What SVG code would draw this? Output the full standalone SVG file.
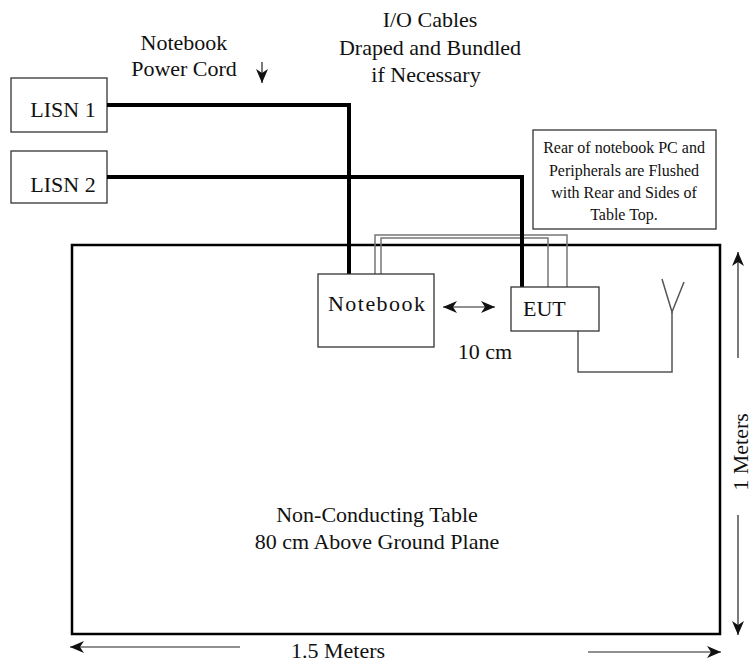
<svg xmlns="http://www.w3.org/2000/svg" width="754" height="665" viewBox="0 0 754 665" font-family="'Liberation Serif', 'Times New Roman', 'DejaVu Serif', serif">
<style>
text{font-family:'Liberation Serif','Times New Roman','DejaVu Serif',serif;fill:#111;}
.t22{font-size:22px;}
.t16{font-size:16px;}
.box{fill:#fff;stroke:#333;stroke-width:1.3;}
.table{fill:none;stroke:#000;stroke-width:2.5;}
.cord{fill:none;stroke:#000;stroke-width:4;}
.io{fill:none;stroke:#777;stroke-width:1.5;}
.wire{fill:none;stroke:#555;stroke-width:1.5;}
.dim{fill:none;stroke:#222;stroke-width:1.2;}
</style>
<defs>
<marker id="ah" viewBox="0 0 16 14" refX="15" refY="7" markerWidth="16" markerHeight="14" markerUnits="userSpaceOnUse" orient="auto-start-reverse">
<path d="M1,1 L15,7 L1,13 L5,7 Z" fill="#111"/>
</marker>
</defs>

<g id="table">
<rect class="table" x="72" y="245" width="648" height="389"/>
<text class="t22" x="377" y="522" text-anchor="middle">Non-Conducting Table</text>
<text class="t22" x="377" y="549" text-anchor="middle">80 cm Above Ground Plane</text>
</g>

<g id="lisn1">
<rect class="box" x="11" y="78" width="96" height="54"/>
<text class="t22" x="63" y="117" text-anchor="middle">LISN 1</text>
</g>
<g id="lisn2">
<rect class="box" x="11" y="151" width="96" height="52"/>
<text class="t22" x="63" y="192" text-anchor="middle">LISN 2</text>
</g>

<g id="note">
<rect class="box" x="533" y="130" width="183" height="99"/>
<text class="t16" x="624" y="153" text-anchor="middle">Rear of notebook PC and</text>
<text class="t16" x="624" y="176" text-anchor="middle">Peripherals are Flushed</text>
<text class="t16" x="624" y="198" text-anchor="middle">with Rear and Sides of</text>
<text class="t16" x="624" y="220" text-anchor="middle">Table Top.</text>
</g>

<g id="labels">
<text class="t22" x="184" y="50" text-anchor="middle">Notebook</text>
<text class="t22" x="184" y="76" text-anchor="middle">Power Cord</text>
<text class="t22" x="430" y="27" text-anchor="middle">I/O Cables</text>
<text class="t22" x="430" y="55" text-anchor="middle">Draped and Bundled</text>
<text class="t22" x="426" y="82" text-anchor="middle">if Necessary</text>
<text class="t22" x="485" y="359" text-anchor="middle">10 cm</text>
<text class="t22" x="338" y="658" text-anchor="middle">1.5 Meters</text>
<text class="t22" transform="translate(748,452) rotate(-90)" text-anchor="middle">1 Meters</text>
</g>

<g id="connectors">
<path class="io" d="M375,274 V235 H567 V287"/>
<path class="io" d="M381,274 V238 H548 V287"/>
<path class="cord" d="M107,105 H349 V274"/>
<path class="cord" d="M107,177 H522 V287"/>
<path class="wire" d="M578,331 V372 H672 V312"/>
<path class="wire" d="M662,279 L672,312 L684,282"/>
<line class="dim" x1="262" y1="62" x2="262" y2="83" marker-end="url(#ah)"/>
<line class="dim" x1="443" y1="307" x2="495" y2="307" marker-start="url(#ah)" marker-end="url(#ah)"/>
<line class="dim" x1="240" y1="647" x2="70" y2="647" marker-end="url(#ah)"/>
<line class="dim" x1="588" y1="652" x2="721" y2="652" marker-end="url(#ah)"/>
<line class="dim" x1="738" y1="358" x2="738" y2="252" marker-end="url(#ah)"/>
<line class="dim" x1="738" y1="515" x2="738" y2="635" marker-end="url(#ah)"/>
</g>

<g id="notebook">
<rect class="box" x="318" y="274" width="116" height="73"/>
<text class="t22" x="328" y="311" textLength="97">Notebook</text>
</g>
<g id="eut">
<rect class="box" x="511" y="287" width="88" height="44"/>
<text class="t22" x="523" y="316">EUT</text>
</g>
</svg>
